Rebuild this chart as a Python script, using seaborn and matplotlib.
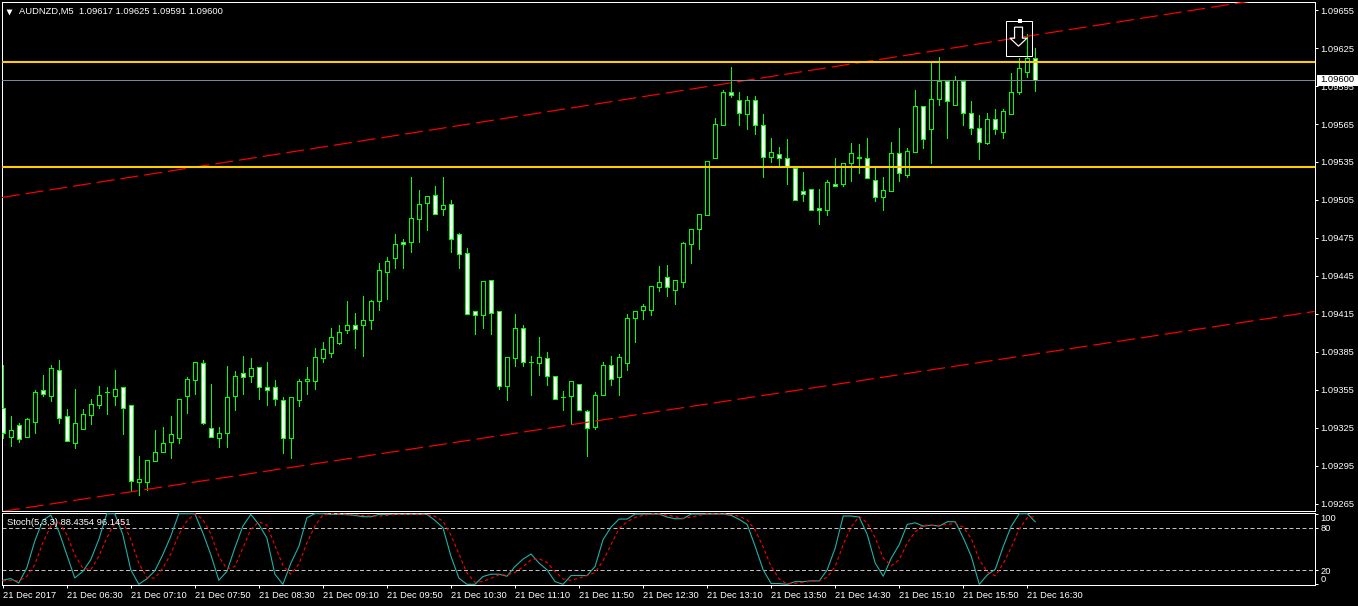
import matplotlib
matplotlib.use('Agg')
import matplotlib.pyplot as plt
from matplotlib.patches import Rectangle
from matplotlib.transforms import ScaledTranslation
import seaborn as sns
import numpy as np
import pandas as pd

# prices are in broker points (1e-5)
opens = [109341, 109318, 109327, 109318, 109330, 109355, 109350, 109371, 109334, 109313,
         109324, 109335, 109343, 109353, 109350, 109357, 109343, 109282, 109282, 109299,
         109306, 109314, 109317, 109350, 109363, 109376, 109325, 109317, 109321, 109350,
         109368, 109366, 109373, 109357, 109357, 109347, 109317, 109347, 109362, 109362,
         109380, 109384, 109392, 109402, 109406, 109406, 109410, 109425, 109448, 109459,
         109472, 109472, 109490, 109503, 109509, 109498, 109502, 109478, 109463, 109417,
         109414, 109442, 109417, 109358, 109380, 109404, 109377, 109376, 109380, 109366,
         109349, 109350, 109360, 109338, 109326, 109351, 109375, 109365, 109376, 109412,
         109418, 109418, 109436, 109444, 109434, 109440, 109470, 109482, 109493, 109538,
         109564, 109590, 109584, 109573, 109584, 109564, 109539, 109541, 109538, 109530,
         109512, 109514, 109499, 109497, 109518, 109518, 109534, 109539, 109538, 109521,
         109507, 109512, 109542, 109525, 109543, 109579, 109561, 109585, 109599, 109580,
         109599, 109574, 109562, 109550, 109569, 109559, 109573, 109590, 109606, 109617]
highs = [109375, 109334, 109329, 109333, 109355, 109367, 109375, 109379, 109340, 109356,
         109340, 109348, 109358, 109357, 109371, 109357, 109343, 109303, 109300, 109323,
         109326, 109334, 109348, 109365, 109377, 109379, 109360, 109326, 109374, 109370,
         109382, 109380, 109373, 109377, 109363, 109349, 109349, 109364, 109373, 109388,
         109393, 109404, 109406, 109425, 109416, 109429, 109426, 109455, 109460, 109478,
         109474, 109523, 109513, 109508, 109516, 109523, 109505, 109479, 109467, 109417,
         109441, 109442, 109417, 109381, 109415, 109406, 109382, 109397, 109385, 109366,
         109354, 109362, 109360, 109339, 109353, 109377, 109382, 109383, 109415, 109417,
         109423, 109437, 109453, 109454, 109442, 109472, 109482, 109494, 109536, 109570,
         109592, 109610, 109590, 109587, 109587, 109573, 109554, 109547, 109553, 109531,
         109527, 109514, 109514, 109521, 109538, 109534, 109550, 109549, 109554, 109530,
         109523, 109551, 109562, 109546, 109592, 109579, 109613, 109618, 109599, 109603,
         109599, 109583, 109572, 109574, 109577, 109577, 109605, 109617, 109636, 109625]
lows = [109317, 109311, 109314, 109318, 109321, 109350, 109346, 109329, 109315, 109309,
        109324, 109328, 109341, 109336, 109343, 109320, 109275, 109272, 109276, 109299,
        109306, 109301, 109313, 109337, 109352, 109328, 109318, 109310, 109310, 109339,
        109352, 109361, 109348, 109343, 109343, 109305, 109301, 109342, 109352, 109356,
        109377, 109381, 109391, 109400, 109388, 109382, 109403, 109418, 109427, 109451,
        109451, 109464, 109472, 109481, 109494, 109493, 109464, 109451, 109415, 109399,
        109404, 109399, 109356, 109347, 109374, 109374, 109351, 109367, 109359, 109348,
        109339, 109328, 109339, 109303, 109324, 109351, 109359, 109351, 109371, 109393,
        109411, 109414, 109433, 109429, 109423, 109436, 109455, 109466, 109493, 109538,
        109564, 109586, 109564, 109561, 109557, 109523, 109535, 109531, 109518, 109505,
        109504, 109497, 109486, 109493, 109516, 109516, 109520, 109526, 109522, 109504,
        109497, 109512, 109520, 109523, 109543, 109546, 109534, 109580, 109554, 109580,
        109564, 109557, 109537, 109549, 109557, 109554, 109573, 109589, 109602, 109591]
closes = [109321, 109323, 109316, 109332, 109353, 109352, 109372, 109333, 109315, 109329,
          109336, 109344, 109351, 109353, 109356, 109341, 109283, 109285, 109300, 109306,
          109313, 109320, 109348, 109364, 109377, 109329, 109318, 109321, 109349, 109366,
          109365, 109372, 109357, 109355, 109348, 109317, 109349, 109362, 109364, 109381,
          109387, 109397, 109401, 109406, 109403, 109410, 109425, 109450, 109457, 109470,
          109470, 109491, 109502, 109508, 109494, 109501, 109474, 109462, 109415, 109414,
          109441, 109416, 109358, 109381, 109404, 109377, 109377, 109381, 109366, 109348,
          109349, 109362, 109339, 109325, 109351, 109375, 109364, 109381, 109412, 109417,
          109421, 109437, 109440, 109436, 109442, 109471, 109482, 109494, 109536, 109565,
          109590, 109588, 109574, 109584, 109564, 109539, 109543, 109538, 109531, 109505,
          109510, 109497, 109497, 109519, 109516, 109534, 109542, 109538, 109522, 109507,
          109513, 109542, 109526, 109544, 109579, 109553, 109585, 109599, 109583, 109600,
          109574, 109562, 109551, 109569, 109561, 109575, 109590, 109609, 109617, 109600]

stoch_main = [5.7, 8.1, 1.9, 22.9, 61, 90.5, 98.1, 75.2, 41.9, 9,
              18.1, 34.8, 63.3, 100, 100, 70.5, 20.5, 0, 7.6, 19,
              41.9, 68.1, 100, 100, 100, 72.9, 41.9, 5.7, 18.1, 51.4,
              82.4, 99, 84.8, 65.7, 14.3, 0, 30, 53.8, 94.3, 100,
              100, 99, 99, 98.6, 97.6, 95.7, 95.7, 99, 99, 99,
              99, 99, 99, 99, 90.5, 80, 39.5, 8.6, 0, 0,
              11, 14.3, 14.3, 11.4, 25.2, 35.7, 42.9, 30, 20.5, 3.8,
              0, 12.4, 12.4, 12.4, 25.2, 63.3, 81, 92.4, 92.4, 99.5,
              99.5, 99.5, 99.5, 95.2, 92.9, 92.9, 99.5, 99.5, 99.5, 99.5,
              99.5, 97.6, 91.9, 84.8, 53.8, 20.5, 1, 1, 0, 3.8,
              3.8, 4.8, 4.8, 20.5, 51.4, 96.7, 96.7, 95.2, 70.5, 30,
              11.4, 37.1, 56.2, 84.8, 87.1, 82.4, 83.8, 82.4, 88.6, 88.6,
              65.7, 39.5, 0, 13.3, 21.4, 53.8, 82.4, 100, 100, 88.4]
stoch_signal = [4.8, 5.7, 4.8, 11, 27.6, 58.6, 82.4, 88.6, 70.5, 41.9,
                22.9, 20.5, 39.5, 65.7, 87.1, 89.5, 63.3, 30, 9.5, 8.6,
                22.9, 42.9, 70.5, 89.5, 100, 91.9, 71.4, 39.5, 21.9, 25.2,
                51.4, 77.6, 88.6, 83.8, 55.2, 26.7, 14.3, 28.6, 58.6, 82.4,
                98.1, 100, 99.5, 99, 98.6, 97.6, 96.7, 96.7, 97.6, 99,
                99, 99, 99, 99, 96.2, 89.5, 69.5, 42.9, 15.7, 2.9,
                3.8, 8.6, 13.3, 13.3, 16.7, 24.8, 34.8, 36.2, 31, 18.1,
                7.6, 5.7, 8.6, 12.4, 16.7, 33.3, 56.2, 79, 88.6, 94.8,
                97.6, 99.5, 99.5, 98.1, 95.7, 93.3, 95.2, 97.6, 99.5, 99.5,
                99.5, 99, 96.2, 91.4, 76.7, 52.9, 25.2, 7.6, 0.5, 1.4,
                2.9, 4.3, 4.8, 10, 25.2, 56.2, 81.4, 96.2, 87.1, 65.7,
                37.1, 26.2, 34.8, 58.6, 74.3, 83.8, 83.8, 83.3, 84.8, 86.2,
                81, 64.8, 34.8, 17.6, 11.9, 29.5, 52.4, 78.6, 94.3, 96.1]

price_ticks = [109265, 109295, 109325, 109355, 109385, 109415, 109445,
               109475, 109505, 109535, 109565, 109595, 109625, 109655]
time_labels = ['21 Dec 2017', '21 Dec 06:30', '21 Dec 07:10', '21 Dec 07:50', '21 Dec 08:30',
               '21 Dec 09:10', '21 Dec 09:50', '21 Dec 10:30', '21 Dec 11:10', '21 Dec 11:50',
               '21 Dec 12:30', '21 Dec 13:10', '21 Dec 13:50', '21 Dec 14:30', '21 Dec 15:10',
               '21 Dec 15:50', '21 Dec 16:30']
support = 109531
resistance = 109614
upper_channel = [109507, 109670]
lower_channel = [109259, 109417]
channel_bars = [-0.1, 163.9]
sell_box_bars = [125.3, 128.6]
sell_box_prices = [109619, 109646]

W, H = 1358, 606
PX = 0.72
GREEN = '#00ff00'
FONT = 'Liberation Sans'
FS = 6.75

sns.set_theme(style='dark', rc={'figure.facecolor': 'black', 'axes.facecolor': 'black',
                                'axes.edgecolor': 'white', 'text.color': 'white',
                                'xtick.color': 'white', 'ytick.color': 'white',
                                'axes.grid': False, 'axes.linewidth': PX})
plt.rcParams['font.family'] = [FONT, 'DejaVu Sans']

def make_axes(fig, left, top, right, bottom):
    return fig.add_axes([left / W, 1 - bottom / H, (right - left) / W, (bottom - top) / H])

def nudge(label, dx_px, dy_px):
    label.set_transform(label.get_transform() + ScaledTranslation(dx_px / 100, dy_px / 100, fig.dpi_scale_trans))

fig = plt.figure(figsize=(W / 100, H / 100), dpi=100)
ax = make_axes(fig, 1.7, 1.7, 1314.7, 511.2)
ax_s = make_axes(fig, 1.7, 513.2, 1314.7, 585)

df = pd.DataFrame({'open': opens, 'high': highs, 'low': lows, 'close': closes}) / 1e5
df['bar'] = np.arange(len(df))
df['main'] = stoch_main
df['signal'] = stoch_signal
bull = df[df.close >= df.open]
bear = df[df.close < df.open]

# candles: wicks first so the bodies hide them
ax.vlines(df.bar, df.low, df.high, color=GREEN, lw=PX, antialiased=False, zorder=2)
ax.bar(bull.bar, bull.close - bull.open, bottom=bull.open, width=0.5, color='black',
       edgecolor=GREEN, lw=PX, antialiased=False, zorder=3)
ax.bar(bear.bar, bear.open - bear.close, bottom=bear.close, width=0.5, color='white',
       edgecolor=GREEN, lw=PX, antialiased=False, zorder=3)

# levels
ax.plot(channel_bars, np.array(upper_channel) / 1e5, color='#ff0000', lw=0.85, ls=(0, (15.25, 5.08)), zorder=4)
ax.plot(channel_bars, np.array(lower_channel) / 1e5, color='#ff0000', lw=0.85, ls=(0, (15.25, 5.08)), zorder=4)
ax.axhline(df.close.iloc[-1], color='#778899', lw=PX, zorder=4)
ax.axhline(resistance / 1e5, color='#ffcc00', lw=1.5, zorder=4)
ax.axhline(support / 1e5, color='#ffcc00', lw=1.5, zorder=4)

# sell arrow with its selection box
arrow = [(-4, 9.5), (4, 9.5), (4, -1.5), (8.5, -1.5), (0, -9.5), (-8.5, -1.5), (-4, -1.5), (-4, 9.5)]
ax.add_patch(Rectangle((sell_box_bars[0], sell_box_prices[0] / 1e5),
                       sell_box_bars[1] - sell_box_bars[0],
                       (sell_box_prices[1] - sell_box_prices[0]) / 1e5,
                       fill=False, ec='white', lw=PX, zorder=5))
ax.scatter([127.05], [sell_box_prices[1] / 1e5], marker='s', s=11, color='white', lw=0, zorder=6)
ax.scatter([126.9], [1.09634], marker=arrow, s=187, facecolor='none', edgecolor='white', lw=PX * 1.2, zorder=6)

ax.set_xlim(-0.125, 163.9)
ax.set_ylim(1.092592, 1.096616)
ax.set_xticks([])
ax.yaxis.tick_right()
ax.set_yticks(np.array(price_ticks) / 1e5)
ax.set_yticklabels(['%.5f' % (p / 1e5) for p in price_ticks], fontsize=FS)
ax.tick_params(axis='y', length=2.5, width=PX, pad=1.5, right=True, left=False)

# last price tag
last = df.close.iloc[-1]
tag = ax.get_yaxis_transform()
ax.add_patch(Rectangle((1.0015, last - 4.6e-5), 0.0325, 8.7e-5, transform=tag, clip_on=False,
                       fc='white', ec='none', zorder=7))
ax.text(1.0044, last, '%.5f' % last, transform=tag, color='black', fontsize=FS,
        va='center', ha='left', zorder=8)

ax.text(0.0134, 0.9805, 'AUDNZD,M5  1.09617 1.09625 1.09591 1.09600', transform=ax.transAxes,
        fontsize=FS, va='center', ha='left')
ax.scatter([0.0055], [0.9805], marker='v', s=18, color='white', lw=0, transform=ax.transAxes)

# stochastic panel
sns.lineplot(data=df, x='bar', y='main', ax=ax_s, color='#20b2aa', lw=PX * 1.1, zorder=3)
sns.lineplot(data=df, x='bar', y='signal', ax=ax_s, color='#ff0000', lw=PX * 1.1,
             linestyle=(0, (3, 2.5)), zorder=4)
for level in [20, 80]:
    ax_s.axhline(level, color='#c0c0c0', lw=PX, ls=(0, (4, 2.5)), zorder=2)
ax_s.set_xlim(-0.125, 163.9)
ax_s.set_ylim(-1, 100.7)
ax_s.set_xlabel('')
ax_s.set_ylabel('')
ax_s.yaxis.tick_right()
ax_s.set_yticks([0, 20, 80, 100])
ax_s.set_yticklabels(['0', '20', '80', '100'], fontsize=FS)
ax_s.get_yticklabels()[0].set_va('bottom')
ax_s.get_yticklabels()[3].set_va('top')
nudge(ax_s.get_yticklabels()[3], 0, -2.4)
ax_s.tick_params(axis='y', length=2, width=PX, pad=2, right=True, left=False)
ax_s.set_xticks(df.bar.values[::8])
ax_s.set_xticklabels(time_labels, fontsize=FS, ha='left')
for lab in ax_s.get_xticklabels():
    nudge(lab, -1, 0)
ax_s.tick_params(axis='x', length=2.5, width=PX, pad=1.5, bottom=True)
ax_s.text(0.0043, 0.935, 'Stoch(5,3,3) 88.4354 96.1451', transform=ax_s.transAxes,
          fontsize=FS, va='top', ha='left', zorder=6)

for a in (ax, ax_s):
    for s in a.spines.values():
        s.set_color('white')
        s.set_linewidth(PX)

fig.savefig('out.png', dpi=100, facecolor='black')
